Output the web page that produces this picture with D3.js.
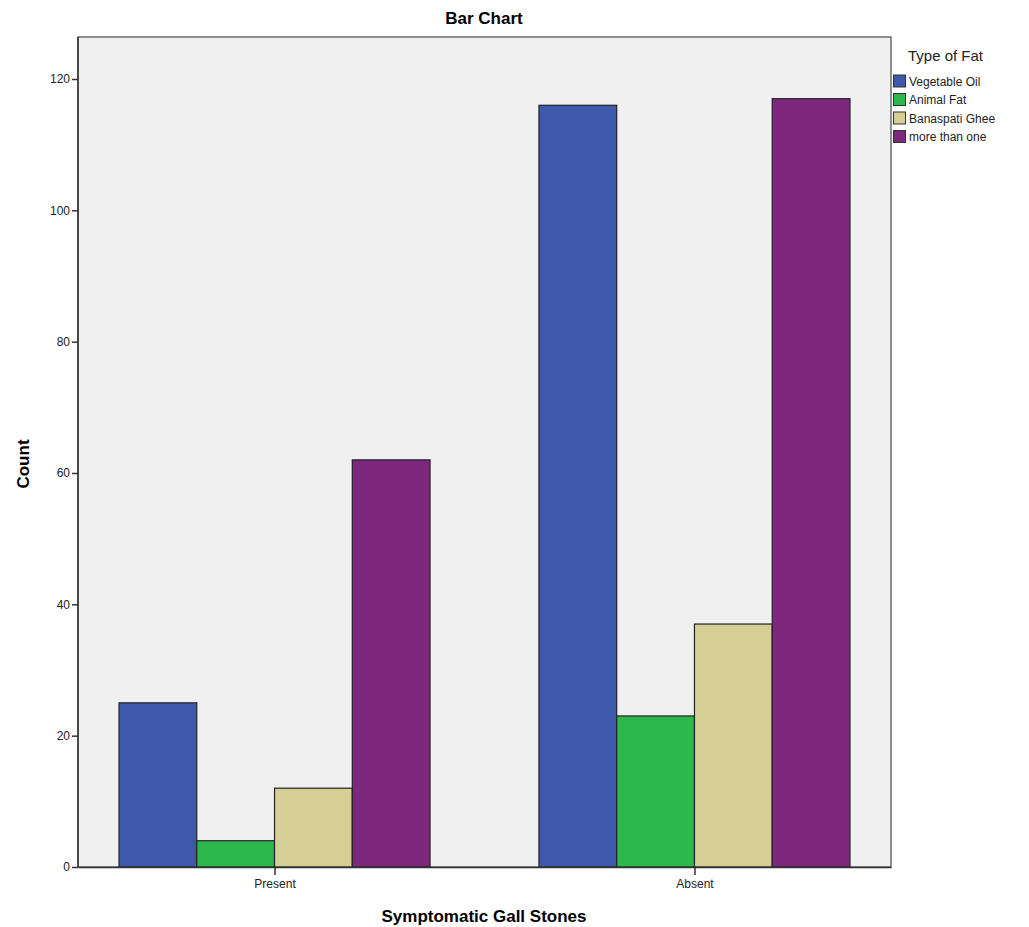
<html>
<head>
<script src="https://d3js.org/d3.v7.min.js"></script>
<style>
body { margin: 0; background: #fff; }
text { font-family: "Liberation Sans", Arial, sans-serif; }
</style>
</head>
<body>
<script>
// chart data
var categories = ["Present", "Absent"];
var series = ["Vegetable Oil", "Animal Fat", "Banaspati Ghee", "more than one"];
var vegetableOil = [25, 116];
var animalFat = [4, 23];
var banaspatiGhee = [12, 37];
var moreThanOne = [62, 117];
var yTicks = [0, 20, 40, 60, 80, 100, 120];
var colors = ["#3e58ac", "#2db84d", "#d5ce95", "#7e287d"];

var values = [vegetableOil, animalFat, banaspatiGhee, moreThanOne];

var W = 1029, H = 927;
var pLeft = 78, pRight = 891, pTop = 37, pBottom = 867;

var svg = d3.select("body").append("svg")
  .attr("width", W).attr("height", H);

// plot background + frame
svg.append("rect")
  .attr("x", pLeft).attr("y", pTop)
  .attr("width", pRight - pLeft).attr("height", pBottom - pTop)
  .attr("fill", "#f0f0f0")
  .attr("stroke", "#555").attr("stroke-width", 1.3);

var y = d3.scaleLinear().domain([0, 120]).range([pBottom, 79]);
var x = d3.scalePoint().domain(categories).range([pLeft, pRight]).padding(0.468);
var xs = d3.scaleBand().domain(series).range([-155.5, 155.5]);

// bars
series.forEach(function(s, i) {
  svg.append("g").selectAll("rect")
    .data(categories.map(function(c, j) { return {c: c, v: values[i][j]}; }))
    .enter().append("rect")
    .attr("x", function(d) { return x(d.c) + xs(s); })
    .attr("y", function(d) { return y(d.v); })
    .attr("width", xs.bandwidth())
    .attr("height", function(d) { return pBottom - y(d.v); })
    .attr("fill", colors[i])
    .attr("stroke", "#222").attr("stroke-width", 1.2);
});

// axes
var yAxis = svg.append("g")
  .attr("transform", "translate(" + pLeft + ",0)")
  .call(d3.axisLeft(y).tickValues(yTicks).tickSize(6).tickSizeOuter(0).tickPadding(2));
var xAxis = svg.append("g")
  .attr("transform", "translate(0," + pBottom + ")")
  .call(d3.axisBottom(x).tickSize(8).tickSizeOuter(0).tickPadding(4));
yAxis.select(".domain").attr("d", "M0," + pTop + "V" + pBottom);
[yAxis, xAxis].forEach(function(a) {
  a.select(".domain").attr("stroke", "#333").attr("stroke-width", 1.5);
  a.selectAll(".tick line").attr("stroke", "#333").attr("stroke-width", 1.5);
  a.selectAll(".tick text").attr("font-size", 12).attr("fill", "#222")
    .attr("font-family", "Liberation Sans, Arial, sans-serif");
});

// titles
svg.append("text")
  .attr("x", 484).attr("y", 24)
  .attr("text-anchor", "middle")
  .attr("font-size", 17).attr("font-weight", "bold")
  .text("Bar Chart");
svg.append("text")
  .attr("x", 484).attr("y", 922)
  .attr("text-anchor", "middle")
  .attr("font-size", 17).attr("font-weight", "bold")
  .text("Symptomatic Gall Stones");
svg.append("text")
  .attr("transform", "translate(29,464) rotate(-90)")
  .attr("text-anchor", "middle")
  .attr("font-size", 17).attr("font-weight", "bold")
  .text("Count");

// legend
var lg = svg.append("g");
lg.append("text")
  .attr("x", 908).attr("y", 61)
  .attr("font-size", 15).attr("fill", "#222")
  .text("Type of Fat");
series.forEach(function(s, i) {
  var yy = 75 + i * 18.5;
  lg.append("rect")
    .attr("x", 893.5).attr("y", yy)
    .attr("width", 12).attr("height", 12)
    .attr("fill", colors[i])
    .attr("stroke", "#333").attr("stroke-width", 1);
  lg.append("text")
    .attr("x", 909).attr("y", yy + 10.5)
    .attr("font-size", 12).attr("fill", "#222")
    .text(s);
});
</script>
</body>
</html>
